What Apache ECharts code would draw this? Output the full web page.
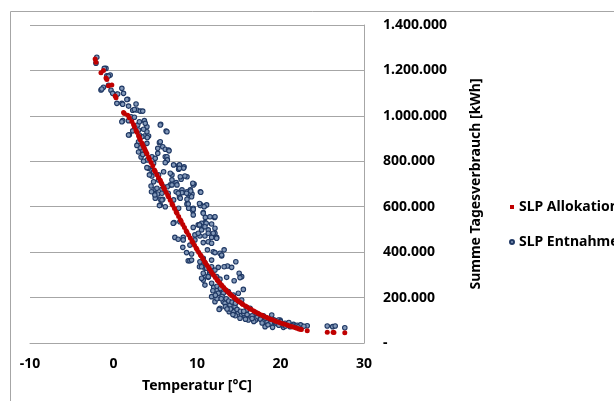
<!DOCTYPE html>
<html>
<head>
<meta charset="utf-8">
<script src="https://cdn.jsdelivr.net/npm/echarts@6/dist/echarts.min.js"></script>
<style>
html,body{margin:0;padding:0;background:#fff;}
#chart{width:614px;height:401px;}
</style>
</head>
<body>
<div id="chart"></div>
<script>
// Axis definitions
var xTicks = [-10, 0, 10, 20, 30];
var yTicks = [0, 200000, 400000, 600000, 800000, 1000000, 1200000, 1400000];
var seriesNames = ['SLP Allokation', 'SLP Entnahme'];
var xAxisTitle = 'Temperatur [°C]';
var yAxisTitle = 'Summe Tagesverbrauch [kWh]';

// SLP Allokation: [temperature °C, kWh]
var allokation = [
[-2.2,1250000],[-2.1,1236000],[-1.5,1190000],[-1.2,1200000],[-0.9,1167000],[-0.8,1160000],[-0.6,1132000],[-0.2,1136000],
[0.2,1087000],[0.3,1080000],[1.2,1015000],[1.3,1010000],[1.7,1003000],[1.9,992000],[2.2,975000],[2.4,962000],
[2.5,952000],[2.7,936000],[2.8,928000],[3.0,912000],[3.1,905000],[3.2,895000],[3.4,880000],[3.5,872000],
[3.6,864000],[3.7,857000],[3.8,849000],[3.9,841000],[4.0,833000],[4.2,818000],[4.3,810000],[4.5,795000],
[4.7,780000],[4.9,762000],[5.0,755000],[5.2,741000],[5.4,728000],[5.6,716000],[5.7,707000],[5.8,700000],
[6.0,685000],[6.1,678000],[6.3,664000],[6.5,650000],[6.6,643000],[6.8,628000],[7.0,613000],[7.1,606000],
[7.3,592000],[7.5,578000],[7.6,571000],[7.8,557000],[8.0,543000],[8.1,536000],[8.3,522000],[8.5,508000],
[8.7,494000],[8.8,488000],[9.0,475000],[9.2,462000],[9.4,449000],[9.5,443000],[9.7,430000],[9.9,418000],
[10.0,412000],[10.2,400000],[10.4,389000],[10.5,383000],[10.7,371000],[10.9,359000],[11.0,353000],[11.2,342000],
[11.4,331000],[11.5,325000],[11.7,314000],[11.9,303000],[12.0,298000],[12.2,288000],[12.4,279000],[12.5,274000],
[12.7,265000],[12.9,256000],[13.0,252000],[13.2,244000],[13.4,236000],[13.5,232000],[13.7,225000],[13.9,218000],
[14.0,214000],[14.2,208000],[14.4,201000],[14.5,198000],[14.7,192000],[14.9,186000],[15.0,183000],[15.2,178000],
[15.4,173000],[15.5,170000],[15.8,163000],[16.0,158000],[16.3,151000],[16.5,147000],[16.8,141000],[17.0,137000],
[17.3,131000],[17.5,127000],[17.8,122000],[18.0,118000],[18.3,113000],[18.5,110000],[18.8,105000],[19.0,102000],
[19.3,98000],[19.5,95000],[19.8,91000],[20.0,88000],[20.3,85000],[20.5,82000],[20.8,79000],[21.0,76000],
[21.3,73000],[21.5,70000],[21.8,67000],[22.0,65000],[22.2,62000],[22.4,60000],[22.5,59000],[23.2,54000],
[25.6,47000],[26.3,47000],[26.4,46000],[27.7,45000]
];

// SLP Entnahme: [temperature °C, kWh]
var entnahme = [
[-2.0,1258000],[-2.1,1232000],[-0.9,1209000],[-1.1,1209000],[-0.4,1180000],[-0.8,1176000],[-0.6,1175000],[-1.2,1126000],
[-1.5,1114000],[-1.4,1118000],[-0.6,1135000],[-0.3,1113000],[-0.1,1099000],[0.4,1095000],[0.5,1096000],[1.0,1121000],
[1.2,1099000],[0.4,1055000],[1.0,1055000],[1.1,1051000],[1.7,1073000],[1.6,1072000],[1.8,1043000],[2.7,1052000],
[2.8,1026000],[3.2,1021000],[3.5,1021000],[2.3,1025000],[2.5,1028000],[1.1,979000],[1.8,979000],[2.1,996000],
[2.5,994000],[3.7,979000],[5.65,963000],[6.3,933000],[1.9,917000],[2.3,934000],[2.9,960000],[3.0,938000],
[4.0,952000],[4.0,930000],[4.2,911000],[3.7,911000],[3.4,908000],[1.0,974000],[3.1,974000],[3.8,967000],
[3.6,941000],[4.05,905000],[3.1,916000],[3.0,886000],[4.0,879000],[3.4,850000],[3.8,835000],[4.6,820000],
[4.05,806000],[4.8,791000],[4.2,769000],[4.6,759000],[5.5,882000],[5.6,960000],[6.4,930000],[5.9,864000],
[6.2,853000],[6.6,850000],[6.4,803000],[6.2,820000],[5.6,886000],[6.65,846000],[5.3,857000],[5.3,835000],
[6.4,820000],[6.45,806000],[6.2,794000],[5.0,813000],[4.0,772000],[4.6,735000],[4.3,740000],[4.8,754000],
[5.4,740000],[6.0,754000],[7.0,740000],[7.8,781000],[8.45,776000],[7.8,765000],[8.8,732000],[8.1,721000],
[7.5,706000],[7.0,718000],[6.8,696000],[6.45,688000],[4.5,691000],[5.0,677000],[5.8,677000],[5.3,656000],
[5.6,633000],[5.6,608000],[5.9,633000],[7.5,666000],[8.0,666000],[7.9,642000],[9.65,700000],[10.4,666000],
[9.2,674000],[9.4,656000],[9.0,652000],[8.85,615000],[9.55,593000],[10.4,611000],[10.9,603000],[10.75,574000],
[11.0,553000],[12.1,553000],[6.8,747000],[7.2,784000],[8.0,732000],[8.55,735000],[7.6,696000],[8.2,674000],
[8.8,666000],[9.55,696000],[9.35,644000],[10.4,605000],[11.15,608000],[7.0,696000],[6.0,688000],[5.2,681000],
[5.8,659000],[6.55,659000],[5.8,630000],[5.0,637000],[7.2,630000],[5.5,605000],[6.2,600000],[7.8,593000],
[9.0,593000],[4.8,710000],[5.4,718000],[1.8,916000],[7.9,784000],[8.4,770000],[7.9,769000],[9.5,703000],
[8.2,662000],[9.0,659000],[9.25,669000],[10.45,664000],[8.8,633000],[8.0,637000],[10.3,614000],[8.8,611000],
[9.5,582000],[10.75,571000],[11.55,556000],[12.15,556000],[10.95,530000],[10.55,527000],[10.15,520000],[10.75,512000],
[11.1,527000],[11.75,524000],[12.15,505000],[11.35,498000],[9.75,476000],[10.35,471000],[10.95,471000],[11.75,465000],
[12.35,465000],[7.35,465000],[8.35,465000],[7.25,530000],[12.15,483000],[4.95,652000],[4.55,666000],[7.75,659000],
[8.75,659000],[8.95,612000],[9.55,589000],[10.85,600000],[9.55,564000],[7.15,527000],[7.95,534000],[9.55,509000],
[10.3,520000],[10.55,498000],[10.95,512000],[11.35,483000],[11.95,483000],[10.15,483000],[12.35,461000],[7.75,457000],
[8.35,454000],[9.75,454000],[10.75,442000],[11.35,446000],[11.75,439000],[8.3,421000],[9.15,431000],[11.25,410000],
[11.95,402000],[12.75,395000],[13.25,410000],[8.75,398000],[9.35,392000],[8.95,362000],[9.15,362000],[10.75,373000],
[11.75,365000],[12.95,383000],[14.65,358000],[10.3,336000],[10.95,329000],[11.75,336000],[11.5,310000],[12.15,321000],
[12.55,333000],[10.95,295000],[11.35,289000],[12.35,292000],[13.65,339000],[14.15,333000],[15.05,307000],[10.75,277000],
[9.35,365000],[10.35,358000],[10.95,351000],[10.55,336000],[11.15,329000],[11.55,318000],[10.75,307000],[10.55,285000],
[11.35,292000],[10.95,255000],[11.75,263000],[12.15,398000],[12.95,387000],[13.25,336000],[13.55,289000],[14.45,274000],
[15.35,292000],[12.35,233000],[12.95,233000],[12.55,219000],[13.15,219000],[13.75,226000],[14.35,211000],[14.95,219000],
[15.55,236000],[11.75,204000],[12.15,182000],[13.15,182000],[13.35,175000],[13.95,167000],[14.55,160000],[12.75,153000],
[13.85,138000],[14.35,138000],[14.95,133000],[15.35,123000],[15.95,145000],[16.35,116000],[16.95,109000],[16.15,101000],
[17.55,116000],[18.15,101000],[18.95,123000],[18.75,94000],[19.35,89000],[19.05,69000],[12.65,148000],[15.15,109000],
[15.75,116000],[19.95,101000],[19.35,94000],[20.55,87000],[20.95,84000],[21.55,82000],[21.85,76000],[22.25,76000],
[22.55,75000],[23.2,76000],[25.6,75000],[26.25,72000],[26.55,75000],[27.7,67000],[21.15,72000],[20.35,69000],
[15.15,288000],[12.75,281000],[15.35,189000],[16.35,153000],[17.15,131000],[17.95,120000],[19.75,101000],[18.15,72000],
[12.0,245000],[12.4,250000],[12.8,240000],[13.0,205000],[13.5,195000],[13.8,185000],[14.2,180000],[14.6,175000],
[14.0,150000],[14.8,148000],[15.2,140000],[15.6,130000],[16.0,125000],[16.6,120000],[17.2,112000],[17.6,105000],
[18.0,95000],[18.4,92000],[18.8,88000],[19.6,85000],[20.2,80000],[20.8,78000],[21.4,76000],[22.0,78000],
[22.4,80000],[22.8,74000],[17.0,100000],[16.8,95000],[15.8,105000],[14.6,120000],[13.4,160000],[12.4,195000],
[12.9,195000],[11.9,230000],[12.2,210000],[13.6,150000],[14.3,125000],[15.6,140000],[16.6,108000],[17.8,88000],
[18.5,80000],[19.8,78000],[20.6,75000],[21.0,90000],[22.1,71000],[18.2,110000],[19.2,102000],[20.0,95000],
[3.0,841000],[3.3,819000],[3.6,800000],[3.2,860000],[2.8,870000],[3.5,830000]
];

function fmtDE(v) {
  if (v === 0) return '-';
  return String(Math.round(v)).replace(/\B(?=(\d{3})+(?!\d))/g, '.');
}

var FONT = '"Noto Sans", "Open Sans", sans-serif';
var TXT = {fontFamily: FONT, fontWeight: 'bold', fontSize: 14, color: '#000'};
var chart = echarts.init(document.getElementById('chart'), null, {renderer: 'canvas'});
chart.setOption({
  animation: false,
  backgroundColor: '#ffffff',
  graphic: [{
    type: 'rect', silent: true, z: -10,
    shape: {x: 10.5, y: 11.5, width: 700, height: 500},
    style: {fill: 'none', stroke: '#a6a6a6', lineWidth: 1}
  }],
  grid: {left: 30, right: 250, top: 25, bottom: 58, containLabel: false},
  legend: {
    orient: 'vertical', left: 504, top: 195,
    itemWidth: 4, itemHeight: 4, itemGap: 21,
    textStyle: TXT,
    data: [
      {name: seriesNames[0], icon: 'rect'},
      {name: seriesNames[1], icon: 'circle'}
    ]
  },
  xAxis: {
    type: 'value', min: xTicks[0], max: xTicks[xTicks.length - 1], interval: 10,
    name: xAxisTitle, nameLocation: 'middle', nameGap: 36,
    nameTextStyle: TXT,
    axisLine: {show: true, onZero: false, lineStyle: {color: '#a6a6a6', width: 1}},
    axisTick: {show: false},
    splitLine: {show: false},
    axisLabel: Object.assign({margin: 14}, TXT)
  },
  yAxis: {
    type: 'value', position: 'right', min: yTicks[0], max: yTicks[yTicks.length - 1], interval: 200000,
    name: yAxisTitle, nameLocation: 'middle', nameGap: 105, nameRotate: 90,
    nameTextStyle: TXT,
    axisLine: {show: true, onZero: false, lineStyle: {color: '#a6a6a6', width: 1}},
    axisTick: {show: false},
    splitLine: {show: true, lineStyle: {color: '#a6a6a6', width: 1}},
    axisLabel: Object.assign({margin: 19, align: 'left', formatter: fmtDE}, TXT)
  },
  series: [
    {
      name: seriesNames[0], type: 'scatter', data: allokation, z: 3,
      symbol: 'circle', symbolSize: 5,
      itemStyle: {color: '#c00000', opacity: 1}
    },
    {
      name: seriesNames[1], type: 'scatter', data: entnahme, z: 2,
      symbol: 'circle', symbolSize: 4.5,
      itemStyle: {color: '#8399b9', borderColor: '#1f3864', borderWidth: 1.1, opacity: 1}
    }
  ]
});
</script>
</body>
</html>
